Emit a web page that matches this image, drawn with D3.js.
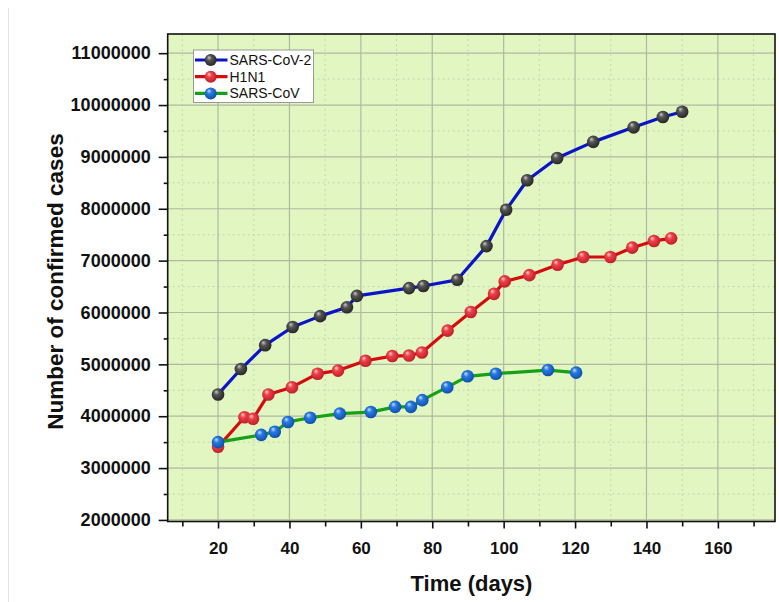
<!DOCTYPE html>
<html>
<head>
<meta charset="utf-8">
<script src="https://cdn.jsdelivr.net/npm/d3@7"></script>
<style>
  body { margin: 0; background: #fff; }
  svg { display: block; font-family: Arial, "Liberation Sans", sans-serif; }
</style>
</head>
<body>
<svg width="779" height="602"></svg>
<script>
const width = 779;
const height = 602;

// data (days, confirmed cases)
const sars2Days = [20, 26.4, 33.2, 40.9, 48.6, 56.1, 58.9, 73.5, 77.5, 87, 95.2, 100.7, 106.6, 115, 125.1, 136.4, 144.6, 150];
const sars2Cases = [4420000, 4910000, 5370000, 5720000, 5930000, 6100000, 6320000, 6470000, 6510000, 6630000, 7280000, 7980000, 8550000, 8980000, 9290000, 9570000, 9770000, 9870000];

const h1n1Days = [20, 27.4, 29.8, 34.1, 40.7, 47.9, 53.6, 61.3, 68.8, 73.5, 77.1, 84.3, 90.8, 97.3, 100.3, 107.2, 115.1, 122.3, 129.9, 136, 142.1, 146.9];
const h1n1Cases = [3410000, 3980000, 3950000, 4420000, 4560000, 4820000, 4880000, 5070000, 5160000, 5170000, 5230000, 5650000, 6010000, 6360000, 6600000, 6720000, 6920000, 7070000, 7070000, 7250000, 7380000, 7430000];

const sarsDays = [20, 32.1, 35.9, 39.6, 45.8, 54.1, 62.8, 69.6, 74, 77.2, 84.2, 89.9, 97.8, 112.4, 120.3];
const sarsCases = [3500000, 3640000, 3700000, 3890000, 3970000, 4050000, 4080000, 4180000, 4180000, 4310000, 4560000, 4770000, 4820000, 4890000, 4840000];

const seriesNames = ["SARS-CoV-2", "H1N1", "SARS-CoV"];

const xMajor = [20, 40, 60, 80, 100, 120, 140, 160];
const xMinor = [10, 30, 50, 70, 90, 110, 130, 150, 170];
const yMajor = [2000000, 3000000, 4000000, 5000000, 6000000, 7000000, 8000000, 9000000, 10000000, 11000000];
const yMinor = [2500000, 3500000, 4500000, 5500000, 6500000, 7500000, 8500000, 9500000, 10500000];

const series = [
  { name: seriesNames[0], days: sars2Days, cases: sars2Cases, line: "#0a14c8", ball: ["#c8c8c8", "#555555", "#222222"] },
  { name: seriesNames[1], days: h1n1Days, cases: h1n1Cases, line: "#d40c0c", ball: ["#ffd0d0", "#ee4048", "#b81c28"] },
  { name: seriesNames[2], days: sarsDays, cases: sarsCases, line: "#16a016", ball: ["#c0e0ff", "#2a7ae2", "#0c4aa8"] }
];

const plotLeft = 167.7, plotRight = 775, plotTop = 34, plotBottom = 521.5;

const x = d3.scaleLinear().domain([5.9, 176]).range([plotLeft, plotRight]);
const y = d3.scaleLinear().domain([1970000, 11370000]).range([plotBottom, plotTop]);

const svg = d3.select("svg");

// faint frame line of the original figure
svg.append("line")
  .attr("x1", 8.5).attr("x2", 8.5).attr("y1", 8).attr("y2", height)
  .attr("stroke", "#e4e4e4").attr("stroke-width", 1);

const defs = svg.append("defs");
series.forEach((s, i) => {
  const g = defs.append("radialGradient")
    .attr("id", "ball" + i)
    .attr("cx", "45%").attr("cy", "45%").attr("r", "60%")
    .attr("fx", "35%").attr("fy", "28%");
  g.append("stop").attr("offset", "0%").attr("stop-color", s.ball[0]);
  g.append("stop").attr("offset", "35%").attr("stop-color", s.ball[1]);
  g.append("stop").attr("offset", "100%").attr("stop-color", s.ball[2]);
});

// plot background
svg.append("rect")
  .attr("x", plotLeft).attr("y", plotTop)
  .attr("width", plotRight - plotLeft).attr("height", plotBottom - plotTop)
  .attr("fill", "#e1f6c1");

// grid
const grid = svg.append("g");
grid.selectAll(".vminor").data(xMinor.filter(d => x(d) > plotLeft && x(d) < plotRight)).enter().append("line")
  .attr("x1", d => x(d)).attr("x2", d => x(d)).attr("y1", plotTop).attr("y2", plotBottom)
  .attr("stroke", "#c4d4b4").attr("stroke-dasharray", "2,3").attr("stroke-width", 1);
grid.selectAll(".hminor").data(yMinor).enter().append("line")
  .attr("x1", plotLeft).attr("x2", plotRight).attr("y1", d => y(d)).attr("y2", d => y(d))
  .attr("stroke", "#c4d4b4").attr("stroke-dasharray", "2,3").attr("stroke-width", 1);
grid.selectAll(".vmajor").data(xMajor).enter().append("line")
  .attr("x1", d => x(d)).attr("x2", d => x(d)).attr("y1", plotTop).attr("y2", plotBottom)
  .attr("stroke", "#b0b8a4").attr("stroke-width", 1.2);
grid.selectAll(".hmajor").data(yMajor).enter().append("line")
  .attr("x1", plotLeft).attr("x2", plotRight).attr("y1", d => y(d)).attr("y2", d => y(d))
  .attr("stroke", "#b0b8a4").attr("stroke-width", 1.2);

// axes
const xAxisMinor = svg.append("g")
  .attr("transform", "translate(0," + plotBottom + ")")
  .call(d3.axisBottom(x).tickValues(xMinor).tickSize(5).tickFormat(""));
const xAxis = svg.append("g")
  .attr("transform", "translate(0," + plotBottom + ")")
  .call(d3.axisBottom(x).tickValues(xMajor).tickSize(7).tickPadding(13));
const yAxisMinor = svg.append("g")
  .attr("transform", "translate(" + plotLeft + ",0)")
  .call(d3.axisLeft(y).tickValues(yMinor).tickSize(4).tickFormat(""));
const yAxis = svg.append("g")
  .attr("transform", "translate(" + plotLeft + ",0)")
  .call(d3.axisLeft(y).tickValues(yMajor).tickSize(9).tickPadding(8).tickFormat(d3.format("d")));

[xAxisMinor, xAxis, yAxisMinor, yAxis].forEach(a => {
  a.select(".domain").remove();
  a.selectAll(".tick line").attr("stroke", "#111").attr("stroke-width", 1.6);
});
xAxis.selectAll("text").attr("font-size", 17).attr("font-weight", "bold").attr("fill", "#111");
yAxis.selectAll("text").attr("font-size", 18).attr("font-weight", "bold").attr("fill", "#111");

// plot frame
svg.append("rect")
  .attr("x", plotLeft).attr("y", plotTop)
  .attr("width", plotRight - plotLeft).attr("height", plotBottom - plotTop)
  .attr("fill", "none").attr("stroke", "#111").attr("stroke-width", 1.6);

// lines and markers
const line = d3.line().x(d => x(d[0])).y(d => y(d[1]));
series.forEach((s, i) => {
  const pts = s.days.map((d, j) => [d, s.cases[j]]);
  svg.append("path")
    .datum(pts)
    .attr("d", line)
    .attr("fill", "none")
    .attr("stroke", s.line)
    .attr("stroke-width", 3.2)
    .attr("stroke-linejoin", "round");
});
// draw markers after all lines (SARS-CoV over H1N1 at day 20)
[1, 0, 2].forEach(i => {
  const s = series[i];
  svg.append("g").selectAll("circle")
    .data(s.days.map((d, j) => [d, s.cases[j]]))
    .enter().append("circle")
    .attr("cx", d => x(d[0]))
    .attr("cy", d => y(d[1]))
    .attr("r", 6.3)
    .attr("fill", "url(#ball" + i + ")");
});

// legend
const legend = svg.append("g");
legend.append("rect")
  .attr("x", 193.5).attr("y", 50)
  .attr("width", 120).attr("height", 52.5)
  .attr("fill", "#fff").attr("stroke", "#999").attr("stroke-width", 1);
series.forEach((s, i) => {
  const ly = 60 + i * 16.7;
  legend.append("line")
    .attr("x1", 195).attr("x2", 227.5).attr("y1", ly).attr("y2", ly)
    .attr("stroke", s.line).attr("stroke-width", 3.2);
  legend.append("circle")
    .attr("cx", 210.7).attr("cy", ly).attr("r", 6)
    .attr("fill", "url(#ball" + i + ")");
  legend.append("text")
    .attr("x", 229.5).attr("y", ly + 5)
    .attr("font-size", 14).attr("fill", "#111")
    .text(s.name);
});

// axis titles
svg.append("text")
  .attr("x", 471.5).attr("y", 590.5)
  .attr("text-anchor", "middle")
  .attr("font-size", 22).attr("font-weight", "bold").attr("fill", "#111")
  .text("Time (days)");

svg.append("text")
  .attr("transform", "translate(62.5,281.5) rotate(-90)")
  .attr("text-anchor", "middle")
  .attr("font-size", 22.5).attr("font-weight", "bold").attr("fill", "#111")
  .text("Number of confirmed cases");
</script>
</body>
</html>
